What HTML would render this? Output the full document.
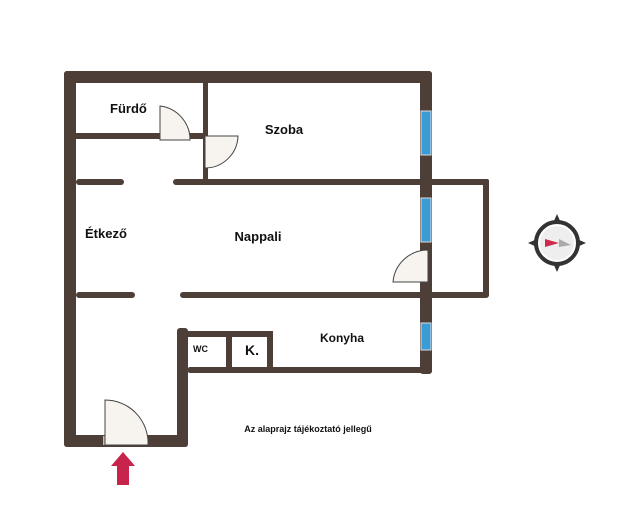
<!DOCTYPE html>
<html><head><meta charset="utf-8"><style>
body{margin:0;background:#fff;width:640px;height:523px;overflow:hidden}
text{font-family:"Liberation Sans",sans-serif;font-weight:bold;fill:#111}
</style></head><body>
<svg width="640" height="523" viewBox="0 0 640 523" xmlns="http://www.w3.org/2000/svg">
<g fill="#4d3f38">
<rect x="64" y="71" width="368" height="12" rx="3"/>
<rect x="64" y="71" width="12" height="376" rx="3"/>
<rect x="420" y="71" width="12" height="303" rx="3"/>
<rect x="64" y="435" width="124" height="12" rx="3"/>
<rect x="177" y="328" width="11" height="119" rx="3"/>
<rect x="76" y="133" width="132" height="6"/>
<rect x="203" y="83" width="5" height="100"/>
<rect x="173" y="179" width="315" height="6" rx="3"/>
<rect x="76" y="179" width="48" height="6" rx="3"/>
<rect x="483" y="179" width="6" height="118" rx="2"/>
<rect x="180" y="292" width="309" height="6" rx="3"/>
<rect x="76" y="292" width="59" height="6" rx="3"/>
<rect x="177" y="331" width="96" height="6" rx="2"/>
<rect x="188" y="367" width="244" height="6" rx="2"/>
<rect x="226" y="331" width="6" height="40"/>
<rect x="267" y="331" width="6" height="40"/>
</g>
<g fill="#3a9bd5" stroke="#ddd" stroke-width="1">
<rect x="421" y="111" width="10" height="44"/>
<rect x="421" y="198" width="10" height="44"/>
<rect x="421" y="323" width="10" height="27"/>
</g>
<g fill="#f7f3ee" stroke="#444" stroke-width="1">
<rect x="160" y="131" width="30" height="9" fill="#c9beb5" stroke="none"/>
<path d="M160 140 L160 106 A34 34 0 0 1 190 140 Z"/>
<path d="M205 136 L238 136 A33 33 0 0 1 205 168 Z"/>
<path d="M428 282 L428 250 A35 35 0 0 0 393 282 Z"/>
<rect x="103" y="436" width="45" height="9" fill="#c9beb5" stroke="none"/>
<path d="M105 445 L105 400 A43 43 0 0 1 148 445 Z"/>
</g>
<polygon points="123,452 135,466 129,466 129,485 117,485 117,466 111,466" fill="#c8234a"/>
<g transform="translate(557,243)">
<circle r="21" fill="none" stroke="#333" stroke-width="4"/>
<circle r="17" fill="#eee"/>
<polygon points="0,-29 4,-20 -4,-20" fill="#333"/>
<polygon points="29,0 20,4 20,-4" fill="#333"/>
<polygon points="0,29 4,20 -4,20" fill="#333"/>
<polygon points="-29,0 -20,4 -20,-4" fill="#333"/>
<polygon points="-12,-4 2,0 -12,4" fill="#d02a4a"/>
<polygon points="14,2 2,-4 2,4" fill="#aaa"/>
</g>
<text x="110" y="113" font-size="13">Fürdő</text>
<text x="284" y="134" font-size="13" text-anchor="middle">Szoba</text>
<text x="85" y="238" font-size="13">Étkező</text>
<text x="258" y="241" font-size="13" text-anchor="middle">Nappali</text>
<text x="193" y="352" font-size="9">WC</text>
<text x="245" y="355" font-size="14">K.</text>
<text x="342" y="342" font-size="12" text-anchor="middle">Konyha</text>
<text x="308" y="432" font-size="9" text-anchor="middle">Az alaprajz tájékoztató jellegű</text>
</svg>
</body></html>
